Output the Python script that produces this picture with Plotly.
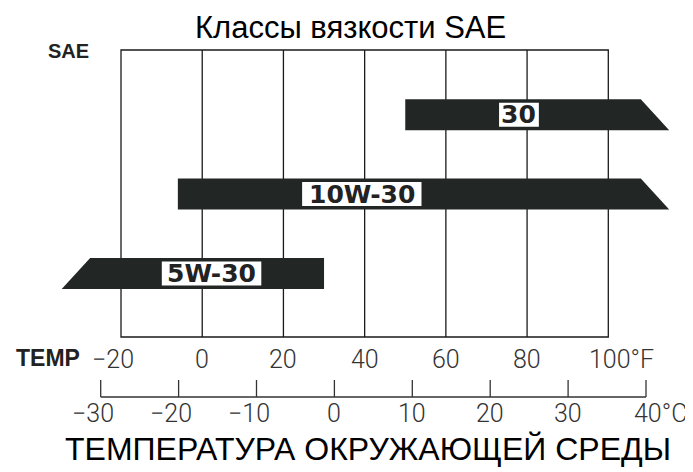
import plotly.graph_objects as go

# ---------------- data ----------------
grades = ["5W-30", "10W-30", "30"]
low_f = [-27.6, -6, 50]          # lower usable temperature, °F
high_f = [30, 108, 108]          # upper usable temperature, °F
open_low = [True, False, False]  # slanted (open-ended) left end
open_high = [False, True, True]  # slanted (open-ended) right end
label_f = [2.3, 39.3, 78]        # where the grade label sits, °F

f_ticks = [-20, 0, 20, 40, 60, 80, 100]
f_labels = ["−20", "0", "20", "40", "60", "80", "100°F"]
c_ticks = [-30, -20, -10, 0, 10, 20, 30, 40]
c_labels = ["−30", "−20", "−10", "0", "10", "20", "30", "40°C"]

title_text = "Классы вязкости SAE"
xtitle_text = "ТЕМПЕРАТУРА ОКРУЖАЮЩЕЙ СРЕДЫ"

# ---------------- style ----------------
W, H = 693, 472
OFF = 8                      # page offset of the figure (body margin)
BAR_COLOR = "#222725"
LINE_COLOR = "#1a1a1a"
SLANT = 7.0                  # °F of slant at open ends
HALF = 0.195                 # bar half-height in row units
BOX_HALF = 0.151             # label box half-height in row units
CHAR_W = 4.9                 # label box width per character, °F
THIN = dict(family="Roboto, Liberation Sans, sans-serif", size=25, color="#333", weight=300)
BOLD = "DejaVu Sans, Liberation Sans, sans-serif"
REG = "Liberation Sans, Arial, sans-serif"


def py(px):
    return 1 - (px - OFF) / H


def pxx(px):
    return (px - OFF) / W


fig = go.Figure()
shapes = []
annotations = []

# bars as polygons
for i, g in enumerate(grades):
    lo, hi = low_f[i], high_f[i]
    top, bot = i + HALF, i - HALF
    xs = [lo, hi, hi + (SLANT if open_high[i] else 0), lo - (SLANT if open_low[i] else 0), lo]
    ys = [top, top, bot, bot, top]
    fig.add_trace(go.Scatter(x=xs, y=ys, fill="toself", fillcolor=BAR_COLOR, mode="lines",
                             line=dict(width=0, color=BAR_COLOR), hoverinfo="skip",
                             showlegend=False, name=g))
    half_w = CHAR_W * max(len(g), 2) / 2
    shapes.append(dict(type="rect", xref="x", yref="y", x0=label_f[i] - half_w, x1=label_f[i] + half_w,
                       y0=i - BOX_HALF, y1=i + BOX_HALF, fillcolor="white", line=dict(width=0),
                       layer="above"))
    annotations.append(dict(x=label_f[i], y=i, xref="x", yref="y", text="<b>%s</b>" % g,
                            showarrow=False, xanchor="center", yanchor="middle",
                            font=dict(family=BOLD, size=25, color="#222")))

# frame and vertical grid (°F)
shapes.append(dict(type="rect", xref="x", yref="paper", x0=f_ticks[0], x1=f_ticks[-1],
                   y0=py(337), y1=py(50), line=dict(color=LINE_COLOR, width=1.3), layer="below"))
for t in f_ticks[1:-1]:
    shapes.append(dict(type="line", xref="x", yref="paper", x0=t, x1=t, y0=py(337), y1=py(50),
                       line=dict(color=LINE_COLOR, width=1.3), layer="below"))
# °C scale
shapes.append(dict(type="line", xref="x2", yref="paper", x0=c_ticks[0], x1=c_ticks[-1],
                   y0=py(397), y1=py(397), line=dict(color="#333", width=1.3)))
for t in c_ticks:
    shapes.append(dict(type="line", xref="x2", yref="paper", x0=t, x1=t, y0=py(397), y1=py(380),
                       line=dict(color="#333", width=1.3)))


# tick labels
def tick_label(t, lab, ref, ypx, unit_shift):
    if lab.endswith("°F") or lab.endswith("°C"):
        return dict(x=t, y=py(ypx), xref=ref, yref="paper", text=lab, showarrow=False,
                    xanchor="left", yanchor="middle", xshift=unit_shift, font=THIN)
    sh = -8 if lab.startswith("−") else 0
    return dict(x=t, y=py(ypx), xref=ref, yref="paper", text=lab, showarrow=False,
                xanchor="center", yanchor="middle", xshift=sh, font=THIN)


for t, lab in zip(f_ticks, f_labels):
    annotations.append(tick_label(t, lab, "x", 359, -21))
for t, lab in zip(c_ticks, c_labels):
    annotations.append(tick_label(t, lab, "x2", 413, -14))

annotations.append(dict(x=pxx(48), y=py(358), xref="paper", yref="paper", text="<b>TEMP</b>",
                        showarrow=False, xanchor="center", yanchor="middle",
                        font=dict(family=REG, size=23, color="#222")))
annotations.append(dict(x=pxx(69), y=py(51), xref="paper", yref="paper", text="<b>SAE</b>",
                        showarrow=False, xanchor="center", yanchor="middle",
                        font=dict(family=REG, size=20, color="#222")))
annotations.append(dict(x=pxx(350), y=py(27), xref="paper", yref="paper", text=title_text,
                        showarrow=False, xanchor="center", yanchor="middle",
                        font=dict(family=REG, size=31, color="black")))
annotations.append(dict(x=pxx(368), y=py(449), xref="paper", yref="paper", text=xtitle_text,
                        showarrow=False, xanchor="center", yanchor="middle",
                        font=dict(family=REG, size=32, color="black")))

# axis ranges: °F maps -20 -> page 121 px, 100 -> 608.3 px; °C maps -30 -> 100.7 px, 40 -> 646 px
F_PX = (608.3 - 121) / 120
C_PX = (646 - 100.7) / 70
f_left = -20 - (121 - OFF) / F_PX
c_left = -30 - (100.7 - OFF) / C_PX
# rows: centre of row i at page px 273.5 - 79.4 * i
ROW_PX = 79.4
y_top = (273.5 - OFF) / ROW_PX
y_bot = y_top - H / ROW_PX

fig.update_layout(
    width=W, height=H, margin=dict(l=0, r=0, t=0, b=0, pad=0),
    paper_bgcolor="white", plot_bgcolor="white", showlegend=False,
    xaxis=dict(range=[f_left, f_left + W / F_PX], visible=False, fixedrange=True),
    xaxis2=dict(range=[c_left, c_left + W / C_PX], visible=False, overlaying="x", fixedrange=True),
    yaxis=dict(range=[y_bot, y_top], visible=False, fixedrange=True),
    shapes=shapes, annotations=annotations,
)

fig.write_html("out.html")
